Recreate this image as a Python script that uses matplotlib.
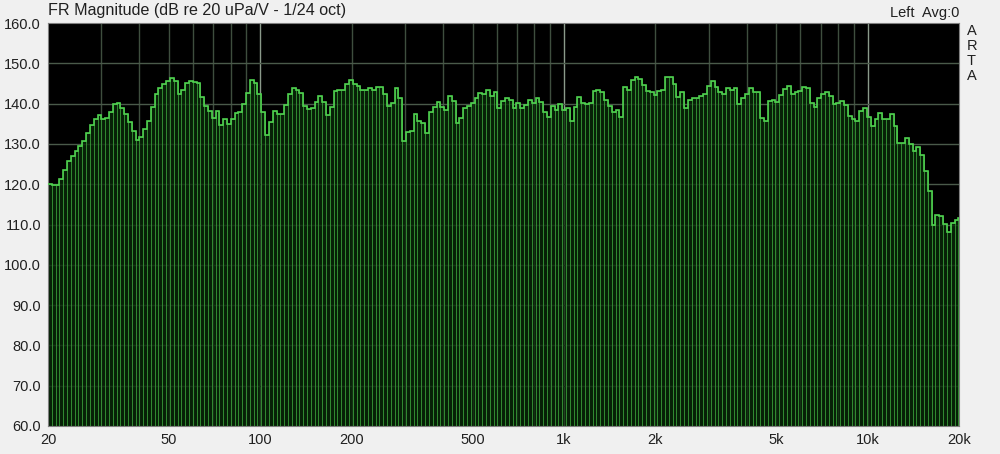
import numpy as np
import matplotlib
matplotlib.use("Agg")
import matplotlib.pyplot as plt

# 1/24 octave magnitude readings (dB), 20 Hz -> 20 kHz
level_lo = [
  120.0, 119.7, 119.8, 121.2, 123.6, 125.8, 127.1, 128.3, 129.6, 130.8,
  132.8, 134.8, 136.3, 137.1, 136.3, 136.5, 137.8, 139.8, 140.2, 138.8,
  137.5, 135.4, 133.3, 131.0, 131.8, 133.6, 135.8, 139.2, 142.3, 143.9,
  144.8, 145.6, 146.3, 145.6, 142.5, 143.3, 145.0, 145.6, 145.4, 145.2,
  141.7, 139.4, 138.2, 136.5, 138.2, 134.8, 136.1, 135.0, 136.3, 137.7,
  137.9, 140.0, 142.7, 145.8, 145.2, 142.5, 137.9, 132.3, 135.4, 138.2,
]
level_lomid = [
  137.5, 137.5, 139.6, 142.5, 143.9, 143.5, 142.7, 139.3, 138.6, 138.8,
  140.3, 141.9, 140.3, 137.1, 139.2, 143.2, 143.3, 143.5, 144.8, 145.8,
  144.8, 144.3, 143.5, 143.3, 143.8, 143.5, 144.2, 144.0, 142.3, 139.4,
  140.2, 143.9, 141.5, 130.8, 132.9, 133.2, 137.3, 135.8, 135.3, 132.7,
  137.9, 139.2, 140.4, 139.2, 138.3, 141.8, 140.7, 135.3, 136.5, 138.8,
  139.4, 140.2, 141.5, 142.7, 142.3, 143.5, 141.8, 142.9, 138.9, 140.7,
]
level_himid = [
  141.3, 140.8, 139.0, 140.2, 138.8, 139.6, 141.0, 140.2, 141.5, 140.4,
  137.8, 136.7, 139.3, 138.3, 140.0, 138.3, 139.0, 135.7, 139.2, 141.7,
  140.2, 139.8, 140.2, 143.2, 143.3, 142.8, 140.8, 139.4, 137.9, 138.5,
  136.7, 144.0, 143.3, 145.8, 146.7, 146.1, 144.6, 143.1, 142.9, 142.1,
  143.1, 143.5, 146.5, 146.5, 144.8, 141.7, 142.8, 138.9, 141.0, 141.3,
  141.3, 141.9, 142.3, 144.4, 145.7, 144.0, 142.8, 142.5, 143.8, 143.5,
]
level_hi = [
  143.8, 139.8, 141.3, 142.3, 143.9, 142.8, 142.9, 136.5, 135.8, 140.7,
  140.8, 140.4, 142.1, 143.6, 144.3, 142.5, 142.8, 143.2, 144.0, 143.8,
  140.2, 139.2, 141.5, 142.3, 142.8, 141.9, 139.8, 140.2, 140.7, 139.6,
  136.9, 136.3, 135.6, 138.2, 138.9, 136.7, 134.4, 136.1, 137.7, 136.3,
  136.3, 137.5, 134.4, 130.3, 130.2, 131.4, 130.0, 128.2, 129.2, 127.3,
  123.2, 118.3, 110.0, 112.3, 112.1, 110.2, 108.2, 110.4, 111.0, 111.5,
]

x_ticks = [20, 50, 100, 200, 500, 1000, 2000, 5000, 10000, 20000]
x_labels = ["20", "50", "100", "200", "500", "1k", "2k", "5k", "10k", "20k"]
y_ticks = [60, 70, 80, 90, 100, 110, 120, 130, 140, 150, 160]

#band edges for 1/24 octave bars
levels = np.array(level_lo + level_lomid + level_himid + level_hi)
edges = 20 * 2 ** (np.arange(len(levels) + 1) / 24)

plt.rcParams['font.family'] = ['Liberation Sans', 'DejaVu Sans']

fig = plt.figure(figsize=(10, 4.54), dpi=100, facecolor='#f0f0f0')
ax = fig.add_axes([0.048, 0.0617, 0.911, 0.8876])
ax.set_facecolor('black')
ax.set_xscale('log')
ax.set_xlim(20, 20000)
ax.set_ylim(60, 160)

#grid (behind the bars, shows through the fill)
grid_f = [m * 10 ** d for d in range(1, 5) for m in range(1, 10)]
grid_f = [f for f in grid_f if 20 < f < 20000]
for f in grid_f:
  bright = f in (100, 1000, 10000)
  ax.axvline(f, color='#8a9a8a' if bright else '#3e4e3e', linewidth=1.0, zorder=1)
for y in y_ticks[1:-1]:
  ax.axhline(y, color='#4a5a4a', linewidth=1.0, zorder=1)

#bars
ax.bar(edges[:-1], levels - 60, width=np.diff(edges), bottom=60, align='edge',
       facecolor=(0.04, 0.16, 0.04, 0.8), edgecolor='#3a9e3a', linewidth=0.5, zorder=2)
ax.stairs(levels, edges, baseline=None, color='#4fd04f', linewidth=1.2, zorder=4)

ax.set_xticks(x_ticks)
ax.set_xticklabels(x_labels)
ax.xaxis.set_minor_locator(matplotlib.ticker.NullLocator())
ax.set_yticks(y_ticks)
ax.set_yticklabels(["%.1f" % y for y in y_ticks])
ax.tick_params(length=0, labelsize=10.5, colors='#202020', pad=5)
for s in ax.spines.values():
  s.set_color('#808080')
  s.set_linewidth(0.8)

#texts
fig.text(0.048, 1 - 11 / 454, "FR Magnitude (dB re 20 uPa/V - 1/24 oct)",
         ha='left', va='center', fontsize=11.6, color='#202020')
fig.text(0.959, 1 - 13 / 454, "Left  Avg:0", ha='right', va='center',
         fontsize=10.5, color='#202020')
for i, ch in enumerate("ARTA"):
  fig.text(0.967, 1 - (31 + i * 15) / 454, ch, ha='left', va='center',
           fontsize=10.5, color='#202020')

fig.savefig('out.png', dpi=100, facecolor=fig.get_facecolor())
